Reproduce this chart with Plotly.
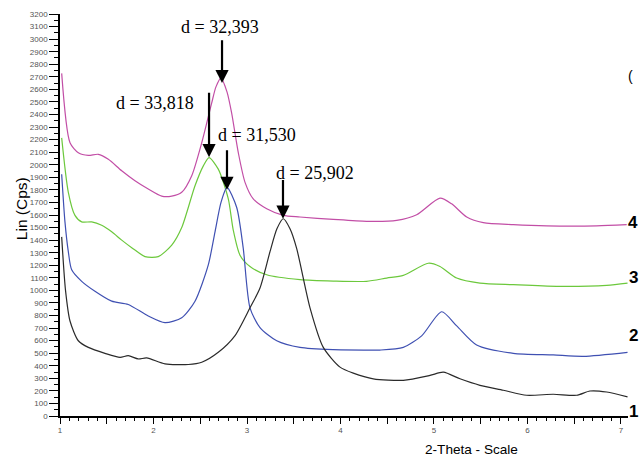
import plotly.graph_objects as go

# ---- data (2-theta in degrees, intensity in cps) ----
x4 = [1.018, 1.107, 1.196, 1.303, 1.410, 1.517, 1.660, 1.802, 1.944, 2.088, 2.195, 2.302,
      2.409, 2.516, 2.622, 2.668, 2.722, 2.786, 2.836, 2.907, 2.979, 3.067, 3.211, 3.388,
      3.567, 3.923, 4.280, 4.601, 4.815, 5.064, 5.189, 5.350, 5.527, 5.848, 6.205, 6.740, 7.061]
y4 = [2727, 2175, 2096, 2075, 2083, 2043, 1952, 1873, 1807, 1750, 1750, 1781,
      1913, 2175, 2490, 2620, 2690, 2580, 2411, 2096, 1860, 1728, 1649, 1597,
      1584, 1565, 1550, 1557, 1602, 1734, 1689, 1584, 1539, 1523, 1513, 1513, 1523]

x3 = [1.018, 1.089, 1.160, 1.232, 1.339, 1.446, 1.553, 1.660, 1.767, 1.909, 2.051, 2.195,
      2.302, 2.444, 2.533, 2.594, 2.693, 2.800, 2.853, 2.925, 3.032, 3.211, 3.567, 3.923,
      4.280, 4.494, 4.672, 4.939, 5.064, 5.243, 5.492, 5.848, 6.312, 6.847, 7.070]
y3 = [2214, 1781, 1597, 1545, 1545, 1518, 1466, 1400, 1340, 1269, 1269, 1360,
      1500, 1833, 1991, 2057, 1965, 1728, 1480, 1280, 1190, 1124, 1085, 1074,
      1072, 1098, 1119, 1216, 1190, 1098, 1058, 1045, 1032, 1040, 1058]

x2 = [1.018, 1.053, 1.089, 1.125, 1.232, 1.374, 1.553, 1.730, 1.944, 2.123, 2.302, 2.444,
      2.586, 2.658, 2.722, 2.786, 2.890, 2.960, 3.032, 3.139, 3.318, 3.567, 3.923, 4.280,
      4.422, 4.672, 4.868, 5.082, 5.243, 5.456, 5.848, 6.276, 6.597, 7.070]
y2 = [1925, 1545, 1308, 1164, 1072, 993, 914, 888, 796, 743, 782, 914,
      1203, 1466, 1700, 1820, 1660, 1334, 861, 704, 599, 546, 528, 525,
      525, 546, 638, 830, 717, 565, 499, 486, 475, 507]

x1 = [1.018, 1.059, 1.107, 1.196, 1.303, 1.481, 1.642, 1.730, 1.837, 1.927, 2.123, 2.372,
      2.516, 2.693, 2.872, 3.032, 3.139, 3.246, 3.320, 3.388, 3.460, 3.531, 3.674, 3.816,
      3.995, 4.137, 4.351, 4.672, 4.957, 5.100, 5.278, 5.492, 5.741, 5.991, 6.276, 6.526,
      6.668, 6.847, 7.070]
y1 = [1426, 1000, 756, 599, 546, 499, 467, 480, 454, 462, 415, 410,
      428, 507, 640, 861, 1019, 1308, 1490, 1570, 1490, 1334, 861, 546,
      389, 341, 296, 284, 323, 349, 296, 244, 205, 165, 173, 165,
      199, 191, 152]

series = [
    ("4", x4, y4, "#c24ea6"),
    ("3", x3, y3, "#6cc83c"),
    ("2", x2, y2, "#3f50b2"),
    ("1", x1, y1, "#2a2a2a"),
]
series_label_y = [1537, 1103, 638, 35]

peak_labels = ["d = 32,393", "d = 33,818", "d = 31,530", "d = 25,902"]
peak_x = [2.733, 2.594, 2.786, 3.385]
peak_tip_y = [2650, 2060, 1800, 1570]
peak_tail_y = [3002, 2585, 2128, 1891]
label_x = [2.711, 2.016, 3.107, 3.727]
label_y = [3097, 2490, 2238, 1938]

x_tickvals = [1, 1.5, 2, 2.5, 3, 3.5, 4, 4.5, 5, 5.5, 6, 6.5, 7]
x_ticktext = ["1", "", "2", "", "3", "", "4", "", "5", "", "6", "", "7"]
y_tickvals = list(range(0, 3201, 100))

fig = go.Figure()
for name, xs, ys, col in series:
    fig.add_trace(go.Scatter(x=xs, y=ys, mode="lines", name=name,
                             line=dict(color=col, width=1.2, shape="spline", smoothing=0.7),
                             showlegend=False, hoverinfo="skip"))

ann = []
for t, px, ty, tl, lx, ly in zip(peak_labels, peak_x, peak_tip_y, peak_tail_y, label_x, label_y):
    ann.append(dict(x=px, y=ty, xref="x", yref="y", ax=px, ay=tl, axref="x", ayref="y",
                    text="", showarrow=True, arrowhead=2, arrowsize=1.2, arrowwidth=2.2,
                    arrowcolor="black"))
    ann.append(dict(x=lx, y=ly, xref="x", yref="y", text=t, showarrow=False,
                    xanchor="center", yanchor="middle",
                    font=dict(family="Liberation Serif", size=18, color="black")))

for (name, _, _, _), yy in zip(series, series_label_y):
    ann.append(dict(x=1.009, y=yy, xref="paper", yref="y", text="<b>%s</b>" % name,
                    showarrow=False, xanchor="center",
                    font=dict(family="Liberation Sans", size=17, color="black")))

ann.append(dict(x=1.004, y=2703, xref="paper", yref="y", text="(", showarrow=False,
                xanchor="center",
                font=dict(family="Liberation Sans", size=14, color="black")))
ann.append(dict(x=-0.0687, y=0.517, xref="paper", yref="paper", text="Lin (Cps)",
                showarrow=False, textangle=-90, xanchor="center", yanchor="middle",
                font=dict(family="Liberation Sans", size=15.5, color="black")))
ann.append(dict(x=0.724, y=-0.0837, xref="paper", yref="paper", text="2-Theta - Scale",
                showarrow=False, xanchor="center", yanchor="middle",
                font=dict(family="Liberation Sans", size=13.6, color="black")))

fig.update_layout(
    width=640, height=459,
    margin=dict(l=60, r=12, t=10, b=43),
    paper_bgcolor="white", plot_bgcolor="white",
    annotations=ann,
    xaxis=dict(range=[1, 7.075], tickvals=x_tickvals, ticktext=x_ticktext,
               ticks="outside", ticklen=6, tickcolor="black", tickwidth=1,
               showline=True, linecolor="black", linewidth=1.5, showgrid=False,
               zeroline=False,
               tickfont=dict(family="Liberation Sans", size=8, color="#555"),
               minor=dict(dtick=0.1, tick0=1, ticks="outside", ticklen=3,
                          tickcolor="black", showgrid=False)),
    yaxis=dict(range=[0, 3200], tickvals=y_tickvals,
               ticks="outside", ticklen=9, tickcolor="black", tickwidth=1,
               showline=True, linecolor="black", linewidth=1.5, showgrid=False,
               zeroline=False,
               tickfont=dict(family="Liberation Sans", size=8, color="#555"),
               minor=dict(dtick=50, tick0=0, ticks="outside", ticklen=4,
                          tickcolor="black", showgrid=False)),
)

fig.write_html("out.html")
